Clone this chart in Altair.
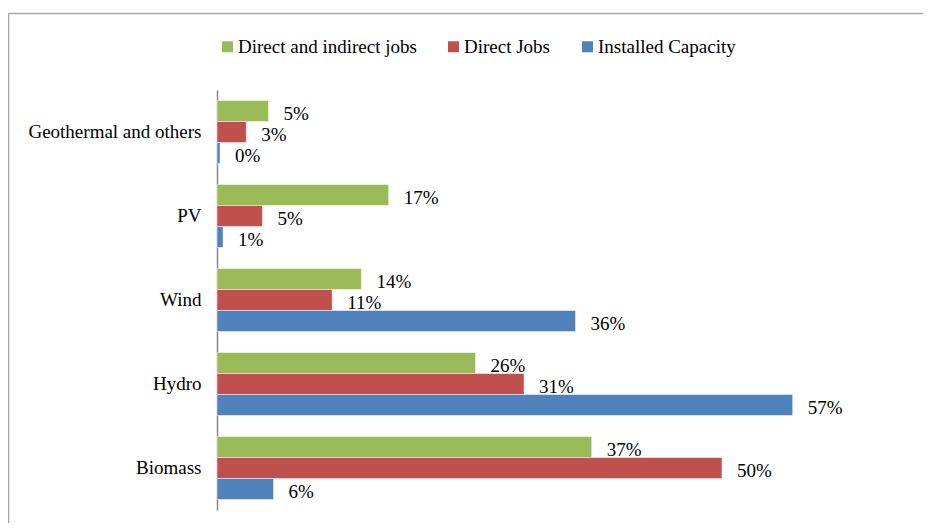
import altair as alt
import pandas as pd

categories = ["Geothermal and others", "PV", "Wind", "Hydro", "Biomass"]
series = ["Direct and indirect jobs", "Direct Jobs", "Installed Capacity"]
colors = ["#9BBB59", "#C0504D", "#4F81BD"]

direct_indirect = [5.1, 17.0, 14.3, 25.6, 37.1]
direct_jobs = [2.9, 4.5, 11.4, 30.4, 50.0]
installed_capacity = [0.3, 0.6, 35.5, 57.0, 5.6]

direct_indirect_labels = ["5%", "17%", "14%", "26%", "37%"]
direct_jobs_labels = ["3%", "5%", "11%", "31%", "50%"]
installed_capacity_labels = ["0%", "1%", "36%", "57%", "6%"]

rows = []
for vals, labs, s in [
    (direct_indirect, direct_indirect_labels, series[0]),
    (direct_jobs, direct_jobs_labels, series[1]),
    (installed_capacity, installed_capacity_labels, series[2]),
]:
    for c, v, l in zip(categories, vals, labs):
        rows.append({"category": c, "series": s, "value": v, "label": l})
df = pd.DataFrame(rows)

FONT = "Liberation Serif"

y_enc = alt.Y(
    "category:N",
    sort=categories,
    scale=alt.Scale(paddingInner=0.25, paddingOuter=0.125),
    axis=alt.Axis(
        title=None,
        ticks=False,
        tickSize=0,
        labelPadding=16,
        labelFont=FONT,
        labelFontSize=19,
        labelColor="#000000",
        labelLimit=400,
        domainColor="#868686",
        domainWidth=1.5,
        grid=False,
    ),
)
yoff = alt.YOffset("series:N", sort=series, scale=alt.Scale(paddingInner=0, paddingOuter=0))
x_enc = alt.X("value:Q", scale=alt.Scale(domain=[0, 60], nice=False), axis=None)

base = alt.Chart(df)

bars = base.mark_bar(stroke="white", strokeWidth=0.5).encode(
    y=y_enc,
    yOffset=yoff,
    x=x_enc,
    color=alt.Color(
        "series:N",
        sort=series,
        scale=alt.Scale(domain=series, range=colors),
        legend=alt.Legend(
            title=None,
            orient="none",
            direction="horizontal",
            legendX=1,
            legendY=-53,
            symbolType="square",
            symbolSize=121,
            symbolStrokeWidth=0,
            labelFont=FONT,
            labelFontSize=19,
            labelColor="#000000",
            labelOffset=1,
            labelLimit=400,
            columnPadding=27,
            padding=0,
        ),
    ),
)

texts = base.mark_text(
    align="left", baseline="middle", dx=15, dy=3, font=FONT, fontSize=19, color="#000000"
).encode(
    y=alt.Y("category:N", sort=categories),
    yOffset=yoff,
    x=x_enc,
    text="label:N",
)

frame_df = pd.DataFrame({"k": [0]})
top_border = alt.Chart(frame_df).mark_rule(color="#A6A6A6", strokeWidth=1.5).encode(
    x=alt.value(-208.5), x2=alt.value(706), y=alt.value(-76.5)
)
left_border = alt.Chart(frame_df).mark_rule(color="#A6A6A6", strokeWidth=1.5).encode(
    x=alt.value(-208.5), y=alt.value(-76.5), y2=alt.value(433)
)

chart = (
    alt.layer(bars, texts, top_border, left_border)
    .properties(
        width=606,
        height=420,
        autosize=alt.AutoSizeParams(type="none"),
        padding={"left": 209, "top": 82, "right": 100, "bottom": 13},
        background="white",
    )
    .configure_view(stroke=None)
)

chart.save("out.html", embed_options={"renderer": "svg", "actions": False})
